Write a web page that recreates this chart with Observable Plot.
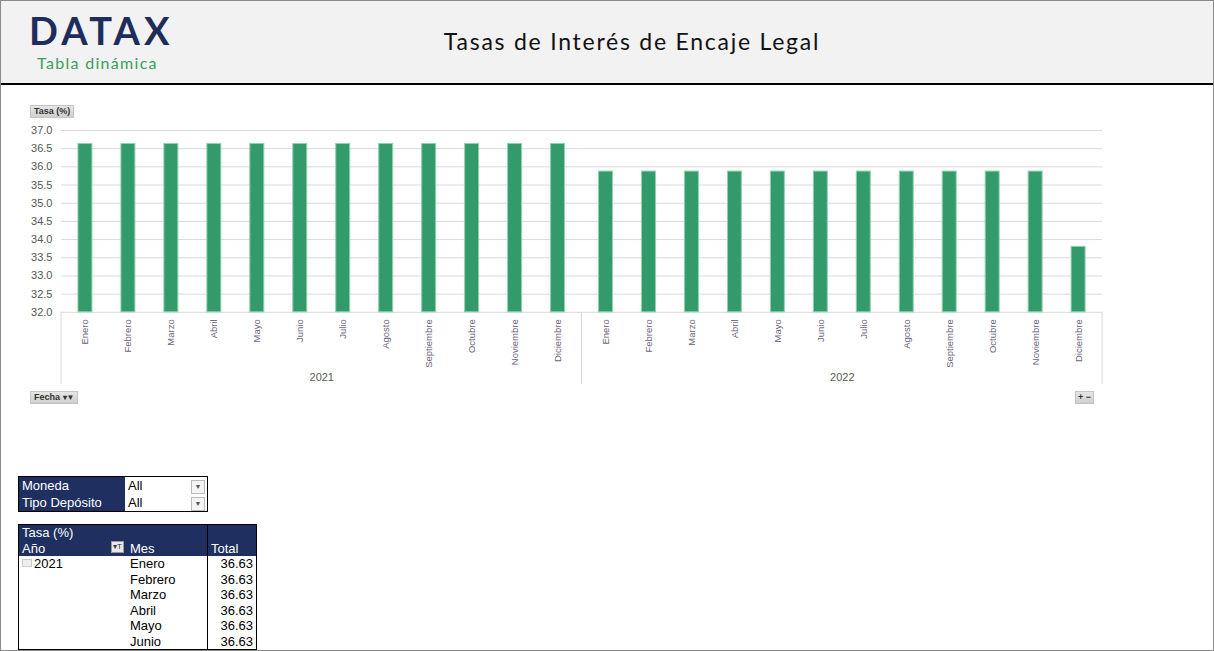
<!DOCTYPE html>
<html>
<head>
<meta charset="utf-8">
<script src="https://cdn.jsdelivr.net/npm/d3@7"></script>
<script src="https://cdn.jsdelivr.net/npm/@observablehq/plot@0.6"></script>
<style>
  html, body { margin: 0; padding: 0; background: #fff; }
  #page { position: relative; width: 1212px; height: 649px; border: 1px solid #8a8a8a; overflow: hidden; background: #fff; font-family: "Liberation Sans", Arial, sans-serif; }
  #header { position: absolute; left: 0; top: 0; width: 1212px; height: 82px; background: #f2f2f2; border-bottom: 2px solid #000; }
  #logo { position: absolute; left: 28px; top: 13px; height: 32px; line-height: 32px; font-family: "Lato", sans-serif; font-weight: bold; font-size: 38px; letter-spacing: 4.2px; color: #1f2d5c; }
  #sub { position: absolute; left: 36px; top: 52px; height: 19px; line-height: 19px; font-family: "Lato", sans-serif; font-size: 16px; letter-spacing: 1.3px; color: #3a9d5d; }
  #title { position: absolute; left: 0; width: 1262px; top: 26px; text-align: center; font-family: "Lato", sans-serif; font-size: 23px; letter-spacing: 1.75px; color: #111; }
  #chart { position: absolute; left: -1px; top: 94px; }
  .btn { position: absolute; background: linear-gradient(#e6e6e6, #cfcfcf); border: 1px solid #c4c4c4; font-family: "Liberation Sans", Arial, sans-serif; font-size: 9px; font-weight: bold; color: #333; line-height: 11px; padding: 0 3px; }
  table { border-collapse: collapse; font-family: "Liberation Sans", Arial, sans-serif; font-size: 13px; }
  #slicer { position: absolute; left: 17px; top: 475px; border: 1px solid #000; }
  #slicer td { height: 15px; padding: 0 3px; line-height: 15px; }
  #slicer td.k { background: #1f3060; color: #fff; width: 100px; }
  #slicer td.v { background: #fff; color: #000; width: 58px; border-right: none; }
  #slicer td.d { background: #fff; width: 12px; padding: 0 2px; }
  .dd { display: inline-block; width: 12px; height: 12px; border: 1px solid #bbb; background: #f4f4f4; font-size: 7px; line-height: 12px; text-align: center; color: #555; }
  #pivot { position: absolute; left: 17px; top: 523px; border: 1px solid #000; }
  #pivot td { height: 15.5px; line-height: 15px; padding: 0 3px; }
  #pivot .h { background: #1f3060; color: #fff; }
  #pivot td.c1 { width: 102px; }
  #pivot td.c2 { width: 74px; border-right: 1px solid #000; }
  #pivot td.c3 { width: 42px; text-align: right; }
  .exp { display: inline-block; width: 8px; height: 6px; border: 1px solid #ccc; background: #eee; margin-right: 2px; vertical-align: 1px; }
  .fic { display: inline-block; width: 11px; height: 10px; background: #e8e8e8; border: 1px solid #999; color: #333; font-size: 8px; line-height: 10px; text-align: center; vertical-align: -1px; }
</style>
</head>
<body>
<div id="page">
  <div id="header">
    <div id="logo">DATAX</div>
    <div id="sub">Tabla dinámica</div>
    <div id="title">Tasas de Interés de Encaje Legal</div>
  </div>
  <div id="chart"></div>
  <div class="btn" style="left:29px;top:104px;">Tasa (%)</div>
  <div class="btn" style="left:29px;top:390px;">Fecha <span style="font-size:8px">▾▼</span></div>
  <div class="btn" style="left:1074px;top:390px;padding:0 2px;">+ &minus;</div>
  <table id="slicer"></table>
  <table id="pivot"></table>
</div>
<script>
const years = ["2021", "2022"];
const months = ["Enero", "Febrero", "Marzo", "Abril", "Mayo", "Junio", "Julio", "Agosto", "Septiembre", "Octubre", "Noviembre", "Diciembre"];
const values2021 = [36.63, 36.63, 36.63, 36.63, 36.63, 36.63, 36.63, 36.63, 36.63, 36.63, 36.63, 36.63];
const values2022 = [35.87, 35.87, 35.87, 35.87, 35.87, 35.87, 35.87, 35.87, 35.87, 35.87, 35.87, 33.80];
const yTicks = [32.0, 32.5, 33.0, 33.5, 34.0, 34.5, 35.0, 35.5, 36.0, 36.5, 37.0];
const filterLabels = ["Moneda", "Tipo Depósito"];
const filterValues = ["All", "All"];
const pivotRowsShown = 6;

const seriesByYear = {"2021": values2021, "2022": values2022};
const data = years.flatMap(yr => months.map((m, j) => ({year: yr, month: m, value: seriesByYear[yr][j]})));

const plot = Plot.plot({
  width: 1214,
  height: 311,
  marginLeft: 61,
  marginRight: 111,
  marginTop: 35,
  marginBottom: 94,
  fx: {domain: years, padding: 0, label: null},
  x: {domain: months, paddingInner: 0.68, paddingOuter: 0.34, label: null},
  y: {domain: [32, 37], label: null},
  style: {fontFamily: "'Liberation Sans', Arial, sans-serif", fontSize: "11px", color: "#595959", background: "transparent", overflow: "visible"},
  marks: [
    Plot.ruleY(yTicks, {stroke: "#d9d9d9", strokeWidth: 1}),
    Plot.barY(data, {fx: "year", x: "month", y1: 32, y2: "value", fill: "#339a6b", stroke: "#92d2ae", strokeWidth: 1}),
    Plot.axisY(yTicks, {anchor: "left", tickSize: 0, tickPadding: 9, tickFormat: d => d.toFixed(1), label: null, fill: "#555"}),
    Plot.axisX({anchor: "bottom", tickRotate: -90, tickSize: 0, tickPadding: 7, label: null, fontSize: 9.5, fill: "#6a5f7a"}),
    Plot.axisFx({anchor: "bottom", tickSize: 0, tickPadding: 61, label: null, fontSize: 11, fill: "#595959"})
  ]
});
document.getElementById("chart").appendChild(plot);

// group separators below the axis, positioned from the fx/y scales
const fx = plot.scale("fx");
const ys = plot.scale("y");
const svg = d3.select(plot);
const base = ys.apply(32);
const edges = years.map(yr => fx.apply(yr)).concat([fx.apply(years[years.length - 1]) + fx.bandwidth]);
svg.append("g").selectAll("line").data(edges).join("line")
  .attr("x1", d => d).attr("x2", d => d)
  .attr("y1", base).attr("y2", base + 72)
  .attr("stroke", "#d9d9d9").attr("stroke-width", 1);

// slicer
const slicer = d3.select("#slicer");
filterLabels.forEach((lab, i) => {
  const tr = slicer.append("tr");
  tr.append("td").attr("class", "k").text(lab);
  tr.append("td").attr("class", "v").text(filterValues[i]);
  tr.append("td").attr("class", "d").html('<span class="dd">▼</span>');
});

// pivot table
const pivot = d3.select("#pivot");
let tr = pivot.append("tr");
tr.append("td").attr("class", "h c1").text("Tasa (%)");
tr.append("td").attr("class", "h c2").text("");
tr.append("td").attr("class", "h c3").text("");
tr = pivot.append("tr");
tr.append("td").attr("class", "h c1").html('Año<span style="float:right" class="fic">▾T</span>');
tr.append("td").attr("class", "h c2").text("Mes");
tr.append("td").attr("class", "h c3").style("text-align", "left").text("Total");
months.slice(0, pivotRowsShown).forEach((m, j) => {
  const r = pivot.append("tr");
  r.append("td").attr("class", "c1").html(j === 0 ? '<span class="exp"></span>' + years[0] : "");
  r.append("td").attr("class", "c2").text(m);
  r.append("td").attr("class", "c3").text(values2021[j].toFixed(2));
});
</script>
</body>
</html>
